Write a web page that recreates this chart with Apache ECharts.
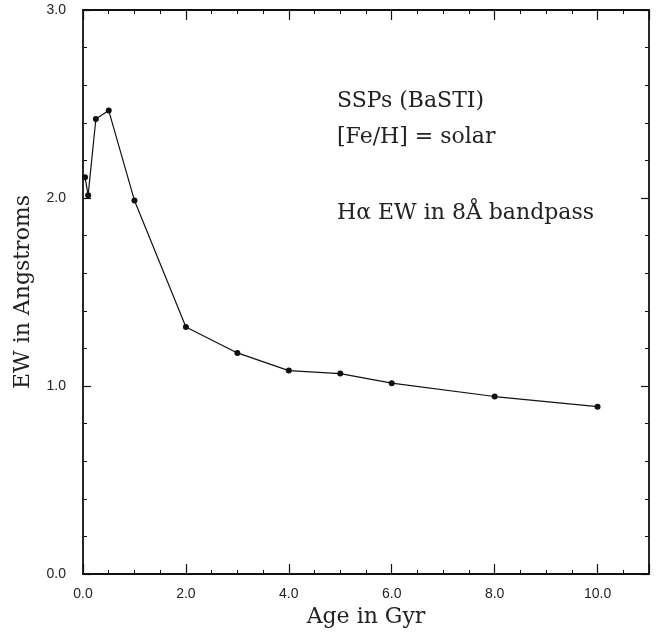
<!DOCTYPE html>
<html>
<head>
<meta charset="utf-8">
<script src="https://cdn.jsdelivr.net/npm/echarts@6/dist/echarts.min.js"></script>
<style>html,body{margin:0;padding:0;background:#fff}#c{width:659px;height:633px}</style>
</head>
<body>
<div id="c"></div>
<script>
const ages = [0.04, 0.1, 0.25, 0.5, 1.0, 2.0, 3.0, 4.0, 5.0, 6.0, 8.0, 10.0];
const ewValues = [2.11, 2.015, 2.42, 2.465, 1.987, 1.314, 1.176, 1.082, 1.066, 1.015, 0.944, 0.890];
const xTitle = 'Age in Gyr';
const yTitle = 'EW in Angstroms';
const notes = ['SSPs (BaSTI)', '[Fe/H] = solar', 'H\u03b1 EW in 8\u00c5 bandpass'];

const chart = echarts.init(document.getElementById('c'), null, {renderer: 'canvas'});
const serif = '"DejaVu Serif", "Liberation Serif", serif';
const sans = '"Liberation Sans", Arial, sans-serif';
const axisLine = {show: true, onZero: false, lineStyle: {color: '#111', width: 1.8}};
const baseX = {
  type: 'value', min: 0, max: 11, interval: 2,
  axisLine: axisLine,
  axisTick: {show: true, inside: true, length: 10, lineStyle: {color: '#111', width: 1.2}},
  minorTick: {show: true, splitNumber: 4, length: 4, lineStyle: {color: '#111', width: 1}},
  splitLine: {show: false}, minorSplitLine: {show: false}
};
const baseY = {
  type: 'value', min: 0, max: 3, interval: 1,
  axisLine: axisLine,
  axisTick: {show: true, inside: true, length: 8, lineStyle: {color: '#111', width: 1.2}},
  minorTick: {show: true, splitNumber: 5, length: 4, lineStyle: {color: '#111', width: 1}},
  splitLine: {show: false}, minorSplitLine: {show: false}
};
chart.setOption({
  animation: false,
  grid: {left: 83, right: 10, top: 10, bottom: 59, containLabel: false, outerBoundsMode: 'none'},
  xAxis: [
    Object.assign({}, baseX, {
      position: 'bottom',
      name: xTitle, nameLocation: 'middle', nameGap: 32,
      nameTextStyle: {fontFamily: serif, fontSize: 22, color: '#222'},
      axisLabel: {show: true, margin: 13, fontFamily: sans, fontSize: 14, color: '#222',
        formatter: v => v.toFixed(1), showMaxLabel: false}
    }),
    Object.assign({}, baseX, {position: 'top', axisLabel: {show: false}})
  ],
  yAxis: [
    Object.assign({}, baseY, {
      position: 'left',
      name: yTitle, nameLocation: 'middle', nameGap: 49,
      nameTextStyle: {fontFamily: serif, fontSize: 22, color: '#222'},
      axisLabel: {show: true, margin: 17, fontFamily: sans, fontSize: 14, color: '#222',
        formatter: v => v.toFixed(1)}
    }),
    Object.assign({}, baseY, {position: 'right', axisLabel: {show: false}})
  ],
  graphic: [
    {type: 'text', left: 337, top: 90, style: {text: notes[0], font: '22px ' + serif, fill: '#222'}},
    {type: 'text', left: 337, top: 126, style: {text: notes[1], font: '22px ' + serif, fill: '#222'}},
    {type: 'text', left: 337, top: 202, style: {text: notes[2], font: '22px ' + serif, fill: '#222'}}
  ],
  series: [{
    type: 'line',
    data: ages.map((a, i) => [a, ewValues[i]]),
    symbol: 'circle', symbolSize: 6,
    lineStyle: {color: '#111', width: 1.2},
    itemStyle: {color: '#111'},
    silent: true
  }]
});
</script>
</body>
</html>
